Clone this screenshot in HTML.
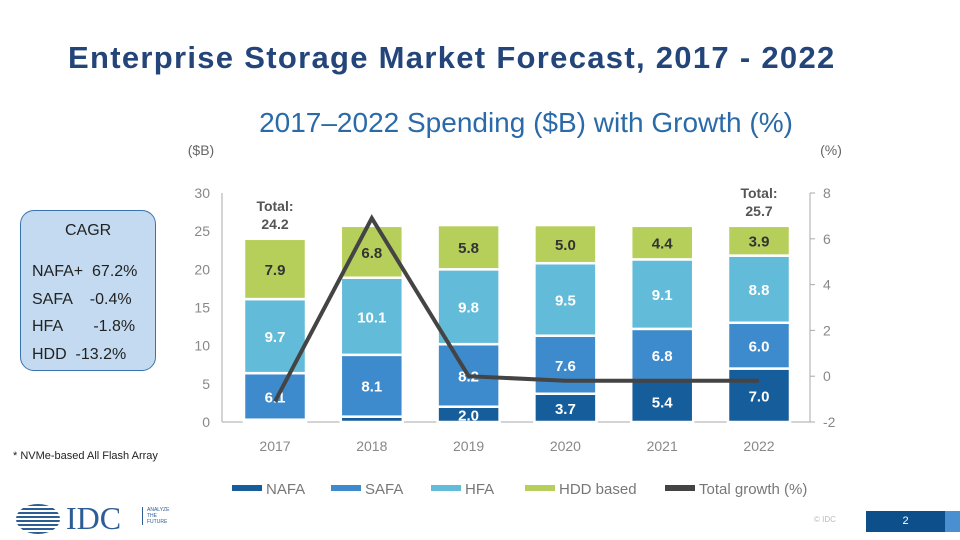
<!DOCTYPE html>
<html><head><meta charset="utf-8"><style>
body{margin:0;width:960px;height:540px;background:#fff;font-family:"Liberation Sans",sans-serif;overflow:hidden;position:relative}
.t{position:absolute;white-space:nowrap}
</style></head><body>
<div class="t" style="left:68px;top:40px;font-size:31px;font-weight:bold;color:#24457a;letter-spacing:1.3px">Enterprise Storage Market Forecast, 2017 - 2022</div>
<div style="position:absolute;left:20px;top:210px;width:136px;height:161px;background:#c3daf0;border:1.5px solid #3a74b0;border-radius:14px;box-sizing:border-box;color:#222;font-size:16px">
<div style="position:absolute;left:44px;top:11px">CAGR</div>
<div style="position:absolute;left:11px;top:47px;line-height:27.5px;white-space:pre">NAFA+  67.2%
SAFA    -0.4%
HFA       -1.8%
HDD  -13.2%</div></div>
<div class="t" style="left:13px;top:450px;font-size:11px;color:#222">* NVMe-based All Flash Array</div>
<svg width="960" height="540" style="position:absolute;left:0;top:0" id="chart"></svg>
<script>
const years=["2017","2018","2019","2020","2021","2022"];
const nafa=[0.3,0.7,2.0,3.7,5.4,7.0];
const safa=[6.1,8.1,8.2,7.6,6.8,6.0];
const hfa=[9.7,10.1,9.8,9.5,9.1,8.8];
const hdd=[7.9,6.8,5.8,5.0,4.4,3.9];
const growth=[-1.1,6.9,0.0,-0.2,-0.2,-0.2];
const leftTicks=[0,5,10,15,20,25,30];
const rightTicks=[-2,0,2,4,6,8];
const totals={0:"24.2",5:"25.7"};
const svg=document.getElementById('chart');const NS="http://www.w3.org/2000/svg";
function yL(v){return 422-v*(229/30);}
function yR(v){return 422-(v+2)*(229/10);}
function xC(i){return 275+i*96.8;}
function mk(t,a,txt){const e=document.createElementNS(NS,t);for(const k in a)e.setAttribute(k,a[k]);if(txt!=null)e.textContent=txt;svg.appendChild(e);return e;}
let e=mk('text',{x:526,y:132,'font-size':28,fill:'#2a6aa8','text-anchor':'middle'},"2017\u20132022 Spending ($B) with Growth (%)");

e=mk('text',{x:201,y:155,'font-size':14,fill:'#666','text-anchor':'middle'},"($B)");

e=mk('text',{x:831,y:155,'font-size':14,fill:'#666','text-anchor':'middle'},"(%)");

leftTicks.forEach(v=>{e=mk('text',{x:210,y:yL(v)+5,'font-size':14,fill:'#888','text-anchor':'end'},v);
});
e=mk('line',{x1:222,x2:222,y1:193,y2:422,stroke:'#aaa'});
e=mk('line',{x1:810,x2:810,y1:193,y2:422,stroke:'#aaa'});

rightTicks.forEach(v=>{mk('line',{x1:810,x2:815,y1:yR(v),y2:yR(v),stroke:'#aaa'});
e=mk('text',{x:823,y:yR(v)+5,'font-size':14,fill:'#888'},v);
});
mk('line',{x1:222,x2:810,y1:422,y2:422,stroke:'#aaa'});
const series=[[nafa,'#165d9c','nafa','#fff'],[safa,'#3d8bcc','safa','#fff'],[hfa,'#62bbd8','hfa','#fff'],[hdd,'#b6cf5a','hdd','#333']];
years.forEach((yr,i)=>{let base=0;
series.forEach(([arr,col,nm,tc],s)=>{const v=arr[i];const y0=yL(base),y1=yL(base+v);
e=mk('rect',{x:xC(i)-31,y:y1,width:62,height:y0-y1,fill:col,stroke:'#fff','stroke-width':2.5});

if(v>1.5){e=mk('text',{x:xC(i),y:(y0+y1)/2+6,'font-size':15,'font-weight':'bold',fill:tc,'text-anchor':'middle'},v.toFixed(1));
}
base+=v;});
e=mk('text',{x:xC(i),y:451,'font-size':14,fill:'#888','text-anchor':'middle'},yr);

if(totals[i]){const ty=yL(base)-28;
e=mk('text',{x:xC(i),y:ty,'font-size':14,'font-weight':'bold',fill:'#555','text-anchor':'middle'},"Total:");

mk('text',{x:xC(i),y:ty+18,'font-size':14,'font-weight':'bold',fill:'#555','text-anchor':'middle'},totals[i]);}
});
e=mk('polyline',{points:growth.map((g,i)=>xC(i)+','+yR(g)).join(' '),fill:'none',stroke:'#444','stroke-width':4,'stroke-linejoin':'miter'});

const leg=[['NAFA','#165d9c',232],['SAFA','#3d8bcc',331],['HFA','#62bbd8',431],['HDD based','#b6cf5a',525],['Total growth (%)','#444',665]];
leg.forEach(([t,c,x])=>{e=mk('rect',{x:x,y:485,width:30,height:6,fill:c});

e=mk('text',{x:x+34,y:494,'font-size':15,fill:'#777'},t);
});
</script>
<div style="position:absolute;left:16px;top:504px;width:44px;height:30px;border-radius:50%;background:repeating-linear-gradient(#2c5d94 0 2px,#fff 2px 4px)"></div>
<div class="t" style="left:66px;top:500px;font-family:'Liberation Serif',serif;font-size:32px;color:#2c5d94">IDC</div>
<div class="t" style="left:142px;top:507px;font-size:5px;line-height:6px;color:#2c5d94;border-left:1px solid #2c5d94;padding-left:4px">ANALYZE<br>THE<br>FUTURE</div>
<div class="t" style="left:814px;top:515px;font-size:8px;color:#bbb">© IDC</div>
<div style="position:absolute;left:866px;top:511px;width:79px;height:21px;background:#0c4f8a;color:#fff;font-size:11px;line-height:21px;text-align:center">2</div>
<div style="position:absolute;left:945px;top:511px;width:15px;height:21px;background:#4a8fcf"></div>
</body></html>
